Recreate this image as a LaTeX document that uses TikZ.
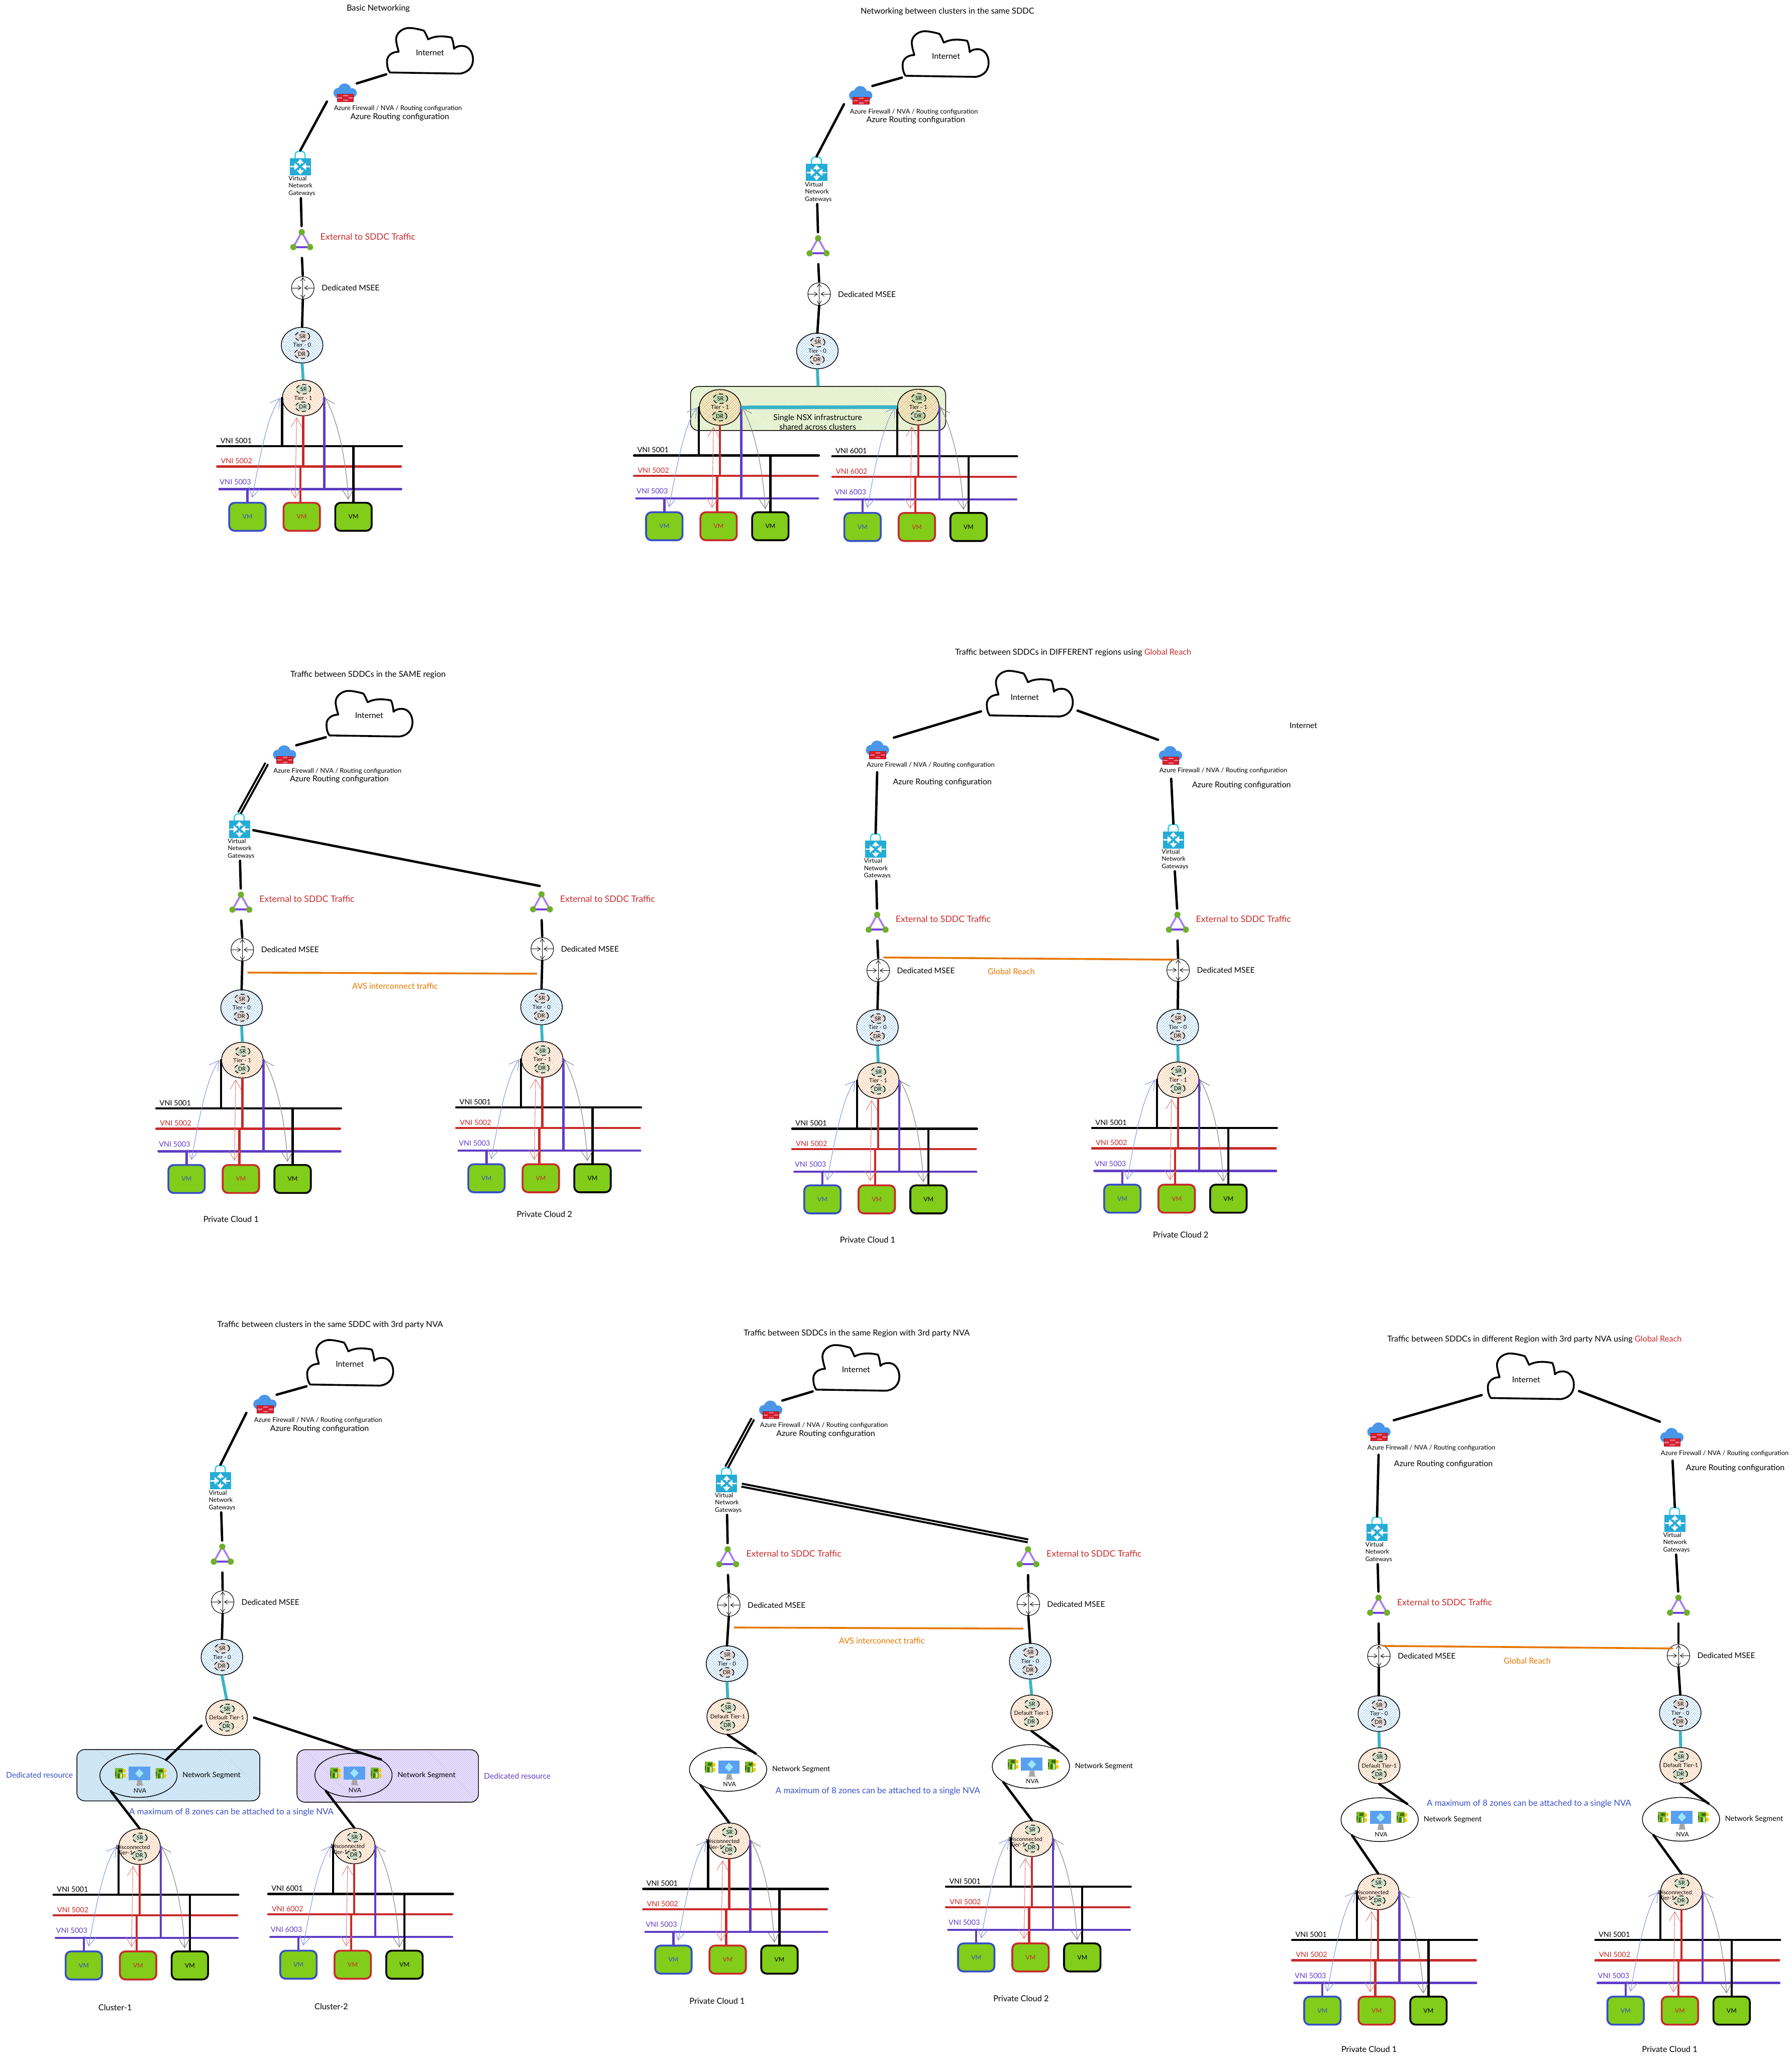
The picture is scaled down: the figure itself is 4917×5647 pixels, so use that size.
\documentclass[tikz,border=0pt]{standalone}
\usepackage{fontspec}
\usepackage{xcolor}
\setmainfont{Lato}
\usetikzlibrary{positioning,shapes.geometric,patterns.meta,arrows.meta}
\definecolor{NetRed}{HTML}{C92A2A}
\definecolor{NetPurple}{HTML}{5F3DC4}
\definecolor{NetBlue}{HTML}{364FC7}
\definecolor{NetTeal}{HTML}{3BB3C6}
\definecolor{NetOrange}{HTML}{E67700}
\definecolor{VMGreen}{HTML}{82CC1A}
\definecolor{HatchBlue}{HTML}{74B8F2}
\definecolor{HatchOrange}{HTML}{FF9F5A}
\definecolor{HatchTan}{HTML}{F0A070}
\definecolor{HatchMint}{HTML}{55C9A0}
\definecolor{HatchLime}{HTML}{9CCB4E}
\definecolor{HatchSky}{HTML}{3D9BDC}
\definecolor{HatchViolet}{HTML}{8560E8}
\definecolor{FWBlue}{HTML}{4A97E9}
\definecolor{BrickRed}{HTML}{E3202C}
\definecolor{BrickPink}{HTML}{F2708A}
\definecolor{BrickDark}{HTML}{9C1620}
\definecolor{GWBlue}{HTML}{25ACD6}
\definecolor{GWHandle}{HTML}{33CFF0}
\definecolor{TriLight}{HTML}{A67CF7}
\definecolor{TriDark}{HTML}{7B3FE4}
\definecolor{TriGreen}{HTML}{6FB02B}
\definecolor{ScreenBlue}{HTML}{5AA0EE}
\definecolor{ScreenGem}{HTML}{9EE6FF}
\definecolor{ChipGreen}{HTML}{76B82F}
\definecolor{ChipDark}{HTML}{3E6A10}
\definecolor{ChipGold}{HTML}{FFC80A}
\tikzset{
  link/.style={line width=0.65pt,line cap=round},
  twinlink/.style={line width=0.55pt,double,double distance=0.25pt},
  wire/.style={line width=0.6pt,line cap=round},
  teallink/.style={line width=0.8pt,NetTeal},
  orangelink/.style={line width=0.5pt,NetOrange},
  iconspace/.style={inner sep=0pt,outer sep=0pt},
  titlelabel/.style={font=\fontsize{2.25}{2.7}\selectfont,inner sep=0pt},
  smalllabel/.style={font=\fontsize{1.78}{2.1}\selectfont,inner sep=0pt},
  biglabel/.style={font=\fontsize{2.2}{2.6}\selectfont,inner sep=0pt},
  notelabel/.style={font=\fontsize{2.15}{2.6}\selectfont,inner sep=0pt},
  seglabel/.style={font=\fontsize{2}{2.4}\selectfont,inner sep=0pt},
  extlabel/.style={font=\fontsize{2.43}{2.8}\selectfont,inner sep=0pt,text=NetRed,yshift=1.4pt},
  orangelabel/.style={font=\fontsize{2.25}{2.7}\selectfont,inner sep=0pt,text=NetOrange},
  bluelabel/.style={font=\fontsize{2.32}{2.8}\selectfont,inner sep=0pt,text=NetBlue},
  gwlabel/.style={font=\fontsize{1.7}{2}\selectfont,inner sep=0pt,align=left,anchor=north west,xshift=-0.5pt},
  vnilabel/.style={font=\fontsize{2}{2.4}\selectfont,inner sep=0pt},
  tiertext/.style={font=\fontsize{1.55}{1.9}\selectfont,inner sep=0pt},
  cloudnode/.style={inner sep=0pt,minimum width=23.6pt,minimum height=12.6pt},
  routerdisc/.style={circle,draw,line width=0.15pt,inner sep=0pt,minimum size=6.2pt},
  routerbar/.style={line width=0.12pt,-{Straight Barb[length=0.9pt,width=1.2pt]}},
  tierdisc/.style={ellipse,draw,line width=0.2pt,inner sep=0pt,minimum width=11.4pt,minimum height=9.8pt},
  tierzone/.style={ellipse,draw,line width=0.2pt,dash pattern=on 1.1pt off 0.8pt,inner sep=0pt,minimum width=4pt,minimum height=2.6pt,font=\fontsize{1.5}{1.8}\selectfont},
  bluehatch/.style={pattern={Lines[angle=45,distance=0.5pt,line width=0.17pt]},pattern color=HatchBlue},
  orangehatch/.style={pattern={Lines[angle=45,distance=0.5pt,line width=0.17pt]},pattern color=HatchOrange},
  tanhatch/.style={pattern={Lines[angle=45,distance=0.4pt,line width=0.17pt]},pattern color=HatchTan},
  minthatch/.style={pattern={Lines[angle=45,distance=0.4pt,line width=0.17pt]},pattern color=HatchMint},
  limehatch/.style={pattern={Lines[angle=45,distance=0.4pt,line width=0.15pt]},pattern color=HatchLime},
  skyhatch/.style={pattern={Lines[angle=45,distance=0.4pt,line width=0.15pt]},pattern color=HatchSky},
  violethatch/.style={pattern={Lines[angle=45,distance=0.4pt,line width=0.15pt]},pattern color=HatchViolet},
  roundpanel/.style={draw,line width=0.2pt,rounded corners=2.2pt,inner sep=0pt},
  nvaring/.style={ellipse,draw,line width=0.2pt,inner sep=0pt,minimum width=21.2pt,minimum height=12pt},
  vmbox/.style={rectangle,rounded corners=1.5pt,fill=VMGreen,line width=0.5pt,inner sep=0pt,minimum width=10pt,minimum height=7.7pt,font=\fontsize{1.7}{2}\selectfont},
  thincurve/.style={line width=0.15pt,{Straight Barb[length=2.6pt,width=3pt]}-{Straight Barb[length=2.6pt,width=3pt]}}
}
\newcommand{\cloudshape}[5]{%
  \node[cloudnode] (cl#1) at (#2,#3) {};
  \node[biglabel,font=\fontsize{2.2}{2.6}\selectfont] (net#1) at ([shift={(#4,#5)}]cl#1.center) {Internet};
  \begin{scope}[shift={(#2,#3)}]
    \draw[line width=0.5pt,line join=round] (-110,60) -- (82,63) .. controls (105,60) and (118,45) .. (118,24)
      .. controls (118,3) and (105,-14) .. (87,-13) .. controls (78,-13) and (70,-10) .. (66,-5)
      .. controls (65,-15) and (63,-28) .. (59,-36) .. controls (40,-40) and (15,-42) .. (-5,-31)
      .. controls (-9,-40) and (-13,-50) .. (-17,-55) .. controls (-35,-60) and (-50,-63) .. (-62,-62)
      .. controls (-85,-58) and (-97,-40) .. (-92,-22) .. controls (-91,-14) and (-88,-6) .. (-86,3)
      .. controls (-105,3) and (-118,15) .. (-118,29) .. controls (-118,42) and (-116,52) .. (-110,60) -- cycle;
  \end{scope}}
\newcommand{\firewall}[3]{%
  \node[iconspace,minimum width=6.4pt,minimum height=5pt] (fw#1) at (#2,#3) {};
  \begin{scope}[shift={(#2,#3)}]
    \fill[FWBlue] (-1,-7) circle[radius=18];
    \fill[FWBlue] (-18,1) circle[radius=14];
    \fill[FWBlue] (19,1) circle[radius=13];
    \fill[FWBlue] (-18,-4) rectangle (19,15);
    \filldraw[fill=BrickRed,draw=BrickDark,line width=0.1pt] (-22,5) rectangle (23,25);
    \fill[BrickPink] (-20,12.8) rectangle (-8,17.2);
    \fill[BrickPink] (-5,6.5) rectangle (8,10.8);
    \fill[BrickPink] (10,12.8) rectangle (21,17.2);
    \fill[BrickPink] (-5,19.5) rectangle (8,23.8);
    \draw[BrickDark,line width=0.1pt] (-22,11.7) -- (23,11.7) (-22,18.3) -- (23,18.3);
  \end{scope}}
\newcommand{\gateway}[3]{%
  \node[iconspace,minimum width=5.8pt,minimum height=6.8pt] (vng#1) at (#2,#3) {};
  \begin{scope}[shift={(#2,#3)}]
    \draw[GWHandle,line width=0.35pt,rounded corners=1pt] (-14,-13) -- (-14,-32) -- (13,-32) -- (13,-13);
    \fill[GWBlue] (-29,-13) rectangle (29,34);
    \draw[white,line width=0.4pt,-{Triangle[length=1.2pt,width=1.9pt]}] (0,5) -- (0,-11);
    \draw[white,line width=0.4pt,-{Triangle[length=1.2pt,width=1.9pt]}] (0,15) -- (0,32);
    \draw[white,line width=0.4pt,-{Triangle[length=1.2pt,width=1.9pt]}] (-27,10) -- (-4,10);
    \draw[white,line width=0.4pt,-{Triangle[length=1.2pt,width=1.9pt]}] (27,10) -- (4,10);
  \end{scope}
  \node[gwlabel] (gwt#1) at (vng#1.south west) {Virtual\\Network\\Gateways};}
\newcommand{\triad}[3]{%
  \node[iconspace,minimum width=6.2pt,minimum height=6pt] (tri#1) at (#2,#3) {};
  \begin{scope}[shift={(#2,#3)}]
    \draw[TriLight,line width=0.5pt] (-23,15) -- (0,-26) -- (23,15);
    \draw[TriDark,line width=0.55pt] (-23,15) -- (23,15);
    \fill[TriGreen] (0,-26) circle[radius=8.5];
    \fill[TriGreen] (-23,15) circle[radius=8.5];
    \fill[TriGreen] (23,15) circle[radius=8.5];
  \end{scope}}
\newcommand{\msee}[3]{%
  \node[routerdisc] (rt#1) at (#2,#3) {};
  \begin{scope}[shift={(#2,#3)}]
    \draw[routerbar] (0,0) -- (0,-29);
    \draw[routerbar] (0,0) -- (0,29);
    \draw[routerbar] (-31,0) -- (-4,0);
    \draw[routerbar] (31,0) -- (4,0);
  \end{scope}
  \node[notelabel,right=1.8pt of rt#1] (mt#1) {Dedicated MSEE};}
\newcommand{\tiernode}[6]{%
  \node[tierdisc,#4] (#1) at (#2,#3) {};
  \begin{scope}[shift={(#2,#3)}]
    \node[tierzone,#5] (#1s) at (1,-24) {SR};
    \node[tierzone,#5] (#1d) at (-1,24) {DR};
    \node[tiertext] (#1t) at (0,0) {#6};
  \end{scope}}
\newcommand{\disctier}[3]{%
  \tiernode{t1#1}{#2}{#3}{orangehatch}{minthatch}{}
  \begin{scope}[shift={(#2,#3)}]
    \node[tiertext] (dis#1) at (-18,1) {Disconnected};
    \node[tiertext] (tir#1) at (-39,17) {Tier-1};
  \end{scope}}
\newcommand{\chipicon}[2]{%
  \begin{scope}[shift={(#1,#2)}]
    \fill[ChipGreen] (-15,-15) rectangle (7,15);
    \fill[ChipGold] (7,-12) rectangle (14,-2);
    \fill[ChipGold] (7,2) rectangle (14,12);
    \fill[ChipDark] (-6,-11) rectangle (5,-4);
    \fill[ChipDark] (-8,0) rectangle (-3,13);
    \fill[white] (0,0) rectangle (3,13);
    \fill[ChipDark] (-15,-5) rectangle (-12,8);
  \end{scope}}
\newcommand{\nvahost}[3]{%
  \node[nvaring] (nva#1) at (#2,#3) {};
  \begin{scope}[shift={(#2,#3)}]
    \fill[gray!70] (-3,12) -- (9,12) -- (11,24) -- (13,28) -- (-7,28) -- (-5,24) -- cycle;
    \fill[ScreenBlue] (-27,-24) rectangle (32,12);
    \fill[ScreenGem] (2.5,-18) -- (14,-6) -- (2.5,6) -- (-9,-6) -- cycle;
    \chipicon{-49}{-6}
    \chipicon{62}{-6}
    \node[tiertext,font=\fontsize{1.7}{2}\selectfont] (nvt#1) at (4,41) {NVA};
  \end{scope}}
\newcommand{\vnistack}[4]{%
  \begin{scope}[shift={(#2,#3)}]
    \coordinate (wa#1) at (-236,132);
    \coordinate (wb#1) at (271,132);
    \coordinate (wc#1) at (-236,188);
    \coordinate (wd#1) at (268,188);
    \coordinate (we#1) at (-230,250);
    \coordinate (wf#1) at (269,250);
    \draw[wire] (wa#1) -- (wb#1);
    \draw[wire,NetRed] (wc#1) -- (wd#1);
    \draw[wire,NetPurple] (we#1) -- (wf#1);
    \node[vnilabel] (va#1) at (-184,117) {VNI #4001};
    \node[vnilabel,text=NetRed] (vb#1) at (-183,173) {VNI #4002};
    \node[vnilabel,text=NetPurple] (vc#1) at (-186,230) {VNI #4003};
    \node[vmbox,draw=NetBlue,text=NetBlue] (vma#1) at (-153,326) {VM};
    \node[vmbox,draw=NetRed,text=NetRed] (vmb#1) at (-4,326) {VM};
    \node[vmbox,draw=black,text=black] (vmc#1) at (138,326) {VM};
    \draw[wire] (t1#1.west) -- (t1#1.west |- wa#1);
    \draw[wire,NetRed] (t1#1.south) -- (t1#1.south |- wc#1);
    \draw[wire,NetPurple] (t1#1.east) -- (t1#1.east |- we#1);
    \draw[wire,NetPurple] (vma#1.north) -- (vma#1.north |- we#1);
    \draw[wire,NetRed] ([xshift=-0.4pt]vmb#1.north) -- ([xshift=-0.4pt]vmb#1.north |- wc#1);
    \draw[wire] (vmc#1.north) -- (vmc#1.north |- wa#1);
    \draw[thincurve,NetBlue!60] ([shift={(13,-11)}]vma#1.north) .. controls (-120,170) and (-100,50) .. ([xshift=-0.5pt]t1#1.west);
    \draw[thincurve,NetRed!60] ([shift={(-18,-9)}]vmb#1.north) -- ([shift={(-18,3)}]t1#1.south);
    \draw[thincurve,gray] ([shift={(-14,-6)}]vmc#1.north) .. controls (118,170) and (95,60) .. ([xshift=0.2pt]t1#1.east);
  \end{scope}}
\newcommand{\gwlink}[1]{%
  \draw[link,shorten <=6.3pt,shorten >=1.3pt] (vng#1.south) -- (tri#1.north);}
\newcommand{\uplink}[2]{%
  \draw[link,shorten <=1.5pt,shorten >=0.3pt] (tri#1.south) -- (rt#1.north);
  \draw[link] (rt#1.south) -- (t0#1.north);
  \draw[teallink] (t0#1.south) -- (#2.north);}
\begin{document}
\begin{tikzpicture}[x=0.1pt,y=-0.1pt]
\useasboundingbox (0,0) rectangle (4917,5647);

\node[titlelabel] (titleA) at (1038,23) {Basic Networking};
\cloudshape{A}{1180}{139}{0}{6}
\firewall{A}{947}{254}
\node[smalllabel] (fwaA) at (1092,298) {Azure Firewall / NVA / Routing configuration};
\node[biglabel] (fwbA) at (1097,322) {Azure Routing configuration};
\gateway{A}{824}{447}
\triad{A}{828}{663}
\node[extlabel,right=1.8pt of triA] (extA) {External to SDDC Traffic};
\msee{A}{831}{790}
\tiernode{t0A}{829}{947}{bluehatch}{tanhatch}{Tier - 0}
\tiernode{t1A}{832}{1092}{orangehatch}{minthatch}{Tier - 1}
\vnistack{A}{832}{1092}{5}
\draw[link] (clA.south west) -- (fwA.north east);
\draw[link] ([xshift=-1.8pt]fwA.south west) -- (vngA.north);
\gwlink{A}
\uplink{A}{t1A}

\node[titlelabel] (titleB) at (2600,32) {Networking between clusters in the same SDDC};
\cloudshape{B}{2595}{148}{1}{6}
\firewall{B}{2362}{261}
\node[smalllabel] (fwaB) at (2508,307) {Azure Firewall / NVA / Routing configuration};
\node[biglabel] (fwbB) at (2513,330) {Azure Routing configuration};
\gateway{B}{2241}{463}
\triad{B}{2245}{680}
\msee{B}{2248}{807}
\tiernode{t0B}{2243}{963}{bluehatch}{tanhatch}{Tier - 0}
\node[roundpanel,limehatch,minimum width=70pt,minimum height=12.1pt] (nsxB) at (2245,1121) {};
\node[biglabel,align=center] (nsxtB) at (2244,1158) {Single NSX infrastructure\\shared across clusters};
\tiernode{t1BL}{1976}{1118}{orangehatch}{minthatch}{Tier - 1}
\tiernode{t1BR}{2520}{1117}{orangehatch}{minthatch}{Tier - 1}
\vnistack{BL}{1976}{1118}{5}
\vnistack{BR}{2520}{1120}{6}
\draw[link] (clB.south west) -- (fwB.north east);
\draw[link] ([xshift=-1.4pt]fwB.south west) -- (vngB.north);
\gwlink{B}
\uplink{B}{nsxB}
\draw[teallink,line width=1pt] (t1BL.east) -- (t1BR.west);

\node[titlelabel] (titleC) at (1010,1851) {Traffic between SDDCs in the SAME region};
\cloudshape{C}{1014}{1958}{-1}{5}
\firewall{C}{781}{2070}
\node[smalllabel] (fwaC) at (926,2116) {Azure Firewall / NVA / Routing configuration};
\node[biglabel] (fwbC) at (931,2139) {Azure Routing configuration};
\gateway{C}{657}{2265}
\triad{C}{661}{2481}
\triad{D}{1486}{2480}
\node[extlabel,right=1.8pt of triC] (extC) {External to SDDC Traffic};
\node[extlabel,right=1.8pt of triD] (extD) {External to SDDC Traffic};
\msee{C}{665}{2606}
\msee{D}{1488}{2604}
\tiernode{t0C}{663}{2765}{bluehatch}{tanhatch}{Tier - 0}
\tiernode{t0D}{1486}{2763}{bluehatch}{tanhatch}{Tier - 0}
\tiernode{t1C}{665}{2909}{orangehatch}{minthatch}{Tier - 1}
\tiernode{t1D}{1488}{2907}{orangehatch}{minthatch}{Tier - 1}
\vnistack{C}{665}{2909}{5}
\vnistack{D}{1488}{2907}{5}
\draw[link] (clC.south west) -- (fwC.north east);
\draw[twinlink] ([xshift=-1.7pt]fwC.south west) -- (vngC.north);
\draw[link] ([shift={(9,13)}]vngC.east) -- ([shift={(-5,-19)}]triD.north);
\gwlink{C}
\uplink{C}{t1C}
\uplink{D}{t1D}
\draw[orangelink] ([shift={(14,31)}]rtC.south) -- ([shift={(-14,36)}]rtD.south);
\node[orangelabel] (avsC) at (1084,2706) {AVS interconnect traffic};
\node[titlelabel] (pcC) at (634,3346) {Private Cloud 1};
\node[titlelabel] (pcD) at (1494,3331) {Private Cloud 2};

\node[titlelabel] (titleE) at (2945,1791) {Traffic between SDDCs in DIFFERENT regions using \textcolor{NetRed}{Global Reach}};
\cloudshape{E}{2826}{1903}{-14}{11}
\node[notelabel] (netF) at (3577,1991) {Internet};
\firewall{E}{2408}{2057}
\firewall{F}{3212}{2072}
\node[smalllabel] (fwaE) at (2554,2100) {Azure Firewall / NVA / Routing configuration};
\node[biglabel] (fwbE) at (2586,2147) {Azure Routing configuration};
\node[smalllabel] (fwaF) at (3357,2115) {Azure Firewall / NVA / Routing configuration};
\node[biglabel] (fwbF) at (3407,2155) {Azure Routing configuration};
\gateway{E}{2403}{2320}
\gateway{F}{3220}{2294}
\triad{E}{2407}{2536}
\triad{F}{3231}{2536}
\node[extlabel,right=1.8pt of triE] (extE) {External to SDDC Traffic};
\node[extlabel,right=1.8pt of triF] (extF) {External to SDDC Traffic};
\msee{E}{2410}{2663}
\msee{F}{3233}{2662}
\tiernode{t0E}{2408}{2819}{bluehatch}{tanhatch}{Tier - 0}
\tiernode{t0F}{3232}{2818}{bluehatch}{tanhatch}{Tier - 0}
\tiernode{t1E}{2410}{2965}{orangehatch}{minthatch}{Tier - 1}
\tiernode{t1F}{3233}{2963}{orangehatch}{minthatch}{Tier - 1}
\vnistack{E}{2410}{2965}{5}
\vnistack{F}{3233}{2963}{5}
\draw[link] ([shift={(-14,-16)}]clE.south west) -- ([shift={(13,-8)}]fwE.north east);
\draw[link] ([shift={(11,-18)}]clE.south east) -- ([shift={(-2,-17)}]fwF.north west);
\draw[link,shorten <=3.7pt] (fwE.south) -- (vngE.north);
\draw[link,shorten <=4pt] (fwF.south) -- (vngF.north);
\gwlink{E}
\gwlink{F}
\uplink{E}{t1E}
\uplink{F}{t1F}
\draw[orangelink] ([shift={(14,-4)}]rtE.north) -- ([shift={(-11,3)}]rtF.north);
\node[orangelabel] (grE) at (2775,2666) {Global Reach};
\node[titlelabel] (pcE) at (2381,3402) {Private Cloud 1};
\node[titlelabel] (pcF) at (3240,3388) {Private Cloud 2};

\node[titlelabel] (titleG) at (906,3635) {Traffic between clusters in the same SDDC with 3rd party NVA};
\cloudshape{G}{961}{3739}{-1}{4}
\firewall{G}{727}{3852}
\node[smalllabel] (fwaG) at (873,3897) {Azure Firewall / NVA / Routing configuration};
\node[biglabel] (fwbG) at (877,3921) {Azure Routing configuration};
\gateway{G}{605}{4053}
\triad{G}{610}{4270}
\msee{G}{611}{4396}
\tiernode{t0G}{609}{4547}{bluehatch}{tanhatch}{Tier - 0}
\tiernode{tdG}{622}{4713}{orangehatch}{minthatch}{Default Tier-1}
\node[roundpanel,skyhatch,minimum width=50.2pt,minimum height=14.1pt] (boxH) at (462,4871) {};
\node[roundpanel,violethatch,minimum width=49.8pt,minimum height=14.4pt] (boxK) at (1064,4873) {};
\nvahost{H}{380}{4872}
\nvahost{K}{970}{4871}
\node[seglabel,right=1.2pt of nvaH] (segH) {Network Segment};
\node[seglabel,right=1.2pt of nvaK] (segK) {Network Segment};
\node[notelabel,text=NetBlue,left=0.8pt of boxH] (resH) {Dedicated resource};
\node[notelabel,text=NetPurple,right=1.2pt of boxK] (resK) {Dedicated resource};
\node[bluelabel] (maxG) at (635,4972) {A maximum of 8 zones can be attached to a single NVA};
\disctier{H}{383}{5067}
\disctier{K}{972}{5065}
\vnistack{H}{383}{5067}{5}
\vnistack{K}{972}{5065}{6}
\draw[link] (clG.south west) -- (fwG.north east);
\draw[link] ([xshift=-1.9pt]fwG.south west) -- (vngG.north);
\gwlink{G}
\uplink{G}{tdG}
\draw[link] ([shift={(-11,22)}]tdG.west) -- (nvaH.north east);
\draw[link] ([xshift=1.7pt]tdG.east) -- (nvaK.north east);
\draw[link] (nvaH.south west) -- (t1H.north);
\draw[link] (nvaK.south west) -- (t1K.north);
\node[titlelabel] (clusH) at (316,5508) {Cluster-1};
\node[titlelabel] (clusK) at (909,5506) {Cluster-2};

\node[titlelabel] (titleI) at (2351,3659) {Traffic between SDDCs in the same Region with 3rd party NVA};
\cloudshape{I}{2350}{3753}{-1}{5}
\firewall{I}{2115}{3868}
\node[smalllabel] (fwaI) at (2261,3911) {Azure Firewall / NVA / Routing configuration};
\node[biglabel] (fwbI) at (2266,3935) {Azure Routing configuration};
\gateway{I}{1994}{4060}
\triad{I}{1997}{4277}
\triad{J}{2821}{4277}
\node[extlabel,right=1.8pt of triI] (extI) {External to SDDC Traffic};
\node[extlabel,right=1.8pt of triJ] (extJ) {External to SDDC Traffic};
\msee{I}{2000}{4404}
\msee{J}{2822}{4402}
\tiernode{t0I}{1995}{4565}{bluehatch}{tanhatch}{Tier - 0}
\tiernode{t0J}{2827}{4558}{bluehatch}{tanhatch}{Tier - 0}
\tiernode{tdI}{1997}{4710}{orangehatch}{minthatch}{Default Tier-1}
\tiernode{tdJ}{2831}{4700}{orangehatch}{minthatch}{Default Tier-1}
\nvahost{I}{1998}{4855}
\nvahost{J}{2829}{4847}
\node[seglabel,right=1.2pt of nvaI] (segI) {Network Segment};
\node[seglabel,right=1.2pt of nvaJ] (segJ) {Network Segment};
\node[bluelabel] (maxI) at (2409,4914) {A maximum of 8 zones can be attached to a single NVA};
\disctier{I}{2001}{5051}
\disctier{J}{2832}{5045}
\vnistack{I}{2001}{5051}{5}
\vnistack{J}{2832}{5045}{5}
\draw[link] (clI.south west) -- (fwI.north east);
\draw[twinlink] ([xshift=-1.7pt]fwI.south west) -- (vngI.north);
\draw[twinlink] ([shift={(12,15)}]vngI.east) -- ([yshift=1.9pt]triJ.north);
\gwlink{I}
\uplink{I}{tdI}
\uplink{J}{tdJ}
\draw[link] (tdI.south) -- (nvaI.north east);
\draw[link] (tdJ.south) -- (nvaJ.north east);
\draw[link] (nvaI.south west) -- (t1I.north);
\draw[link] (nvaJ.south west) -- (t1J.north);
\draw[orangelink] ([shift={(14,30)}]rtI.south) -- ([shift={(-14,35)}]rtJ.south);
\node[orangelabel] (avsI) at (2420,4502) {AVS interconnect traffic};
\node[titlelabel] (pcI) at (1968,5490) {Private Cloud 1};
\node[titlelabel] (pcJ) at (2802,5483) {Private Cloud 2};

\node[titlelabel] (titleL) at (4211,3675) {Traffic between SDDCs in different Region with 3rd party NVA using \textcolor{NetRed}{Global Reach}};
\cloudshape{L}{4201}{3776}{-13}{10}
\firewall{L}{3784}{3928}
\firewall{M}{4588}{3943}
\node[smalllabel] (fwaL) at (3928,3973) {Azure Firewall / NVA / Routing configuration};
\node[biglabel] (fwbL) at (3961,4018) {Azure Routing configuration};
\node[smalllabel] (fwaM) at (4733,3988) {Azure Firewall / NVA / Routing configuration};
\node[biglabel] (fwbM) at (4762,4028) {Azure Routing configuration};
\gateway{L}{3779}{4195}
\gateway{M}{4596}{4169}
\triad{L}{3783}{4410}
\triad{M}{4606}{4410}
\node[extlabel,right=1.8pt of triL] (extL) {External to SDDC Traffic};
\msee{L}{3784}{4544}
\msee{M}{4606}{4543}
\tiernode{t0L}{3784}{4702}{bluehatch}{tanhatch}{Tier - 0}
\tiernode{t0M}{4611}{4700}{bluehatch}{tanhatch}{Tier - 0}
\tiernode{tdL}{3785}{4845}{orangehatch}{minthatch}{Default Tier-1}
\tiernode{tdM}{4612}{4844}{orangehatch}{minthatch}{Default Tier-1}
\nvahost{L}{3786}{4993}
\nvahost{M}{4613}{4992}
\node[seglabel,right=1.2pt of nvaL] (segL) {Network Segment};
\node[seglabel,right=1.2pt of nvaM] (segM) {Network Segment};
\node[bluelabel] (maxL) at (4196,4949) {A maximum of 8 zones can be attached to a single NVA};
\disctier{L}{3782}{5191}
\disctier{M}{4614}{5191}
\vnistack{L}{3782}{5191}{5}
\vnistack{M}{4614}{5191}{5}
\draw[link] ([shift={(-15,-13)}]clL.south west) -- ([shift={(9,-6)}]fwL.north east);
\draw[link] ([shift={(12,-24)}]clL.south east) -- ([shift={(-1,-17)}]fwM.north west);
\draw[link,shorten <=3.9pt] (fwL.south) -- (vngL.north);
\draw[link,shorten <=4pt] (fwM.south) -- (vngM.north);
\gwlink{L}
\gwlink{M}
\uplink{L}{tdL}
\uplink{M}{tdM}
\draw[link] (tdL.south) -- (nvaL.north east);
\draw[link] (tdM.south) -- (nvaM.north east);
\draw[link] (nvaL.south west) -- (t1L.north);
\draw[link] (nvaM.south west) -- (t1M.north);
\draw[orangelink] ([shift={(10,4)}]rtL.north) -- ([shift={(-15,12)}]rtM.north);
\node[orangelabel] (grL) at (4191,4557) {Global Reach};
\node[titlelabel] (pcL) at (3757,5623) {Private Cloud 1};
\node[titlelabel] (pcM) at (4582,5623) {Private Cloud 1};
\end{tikzpicture}
\end{document}
